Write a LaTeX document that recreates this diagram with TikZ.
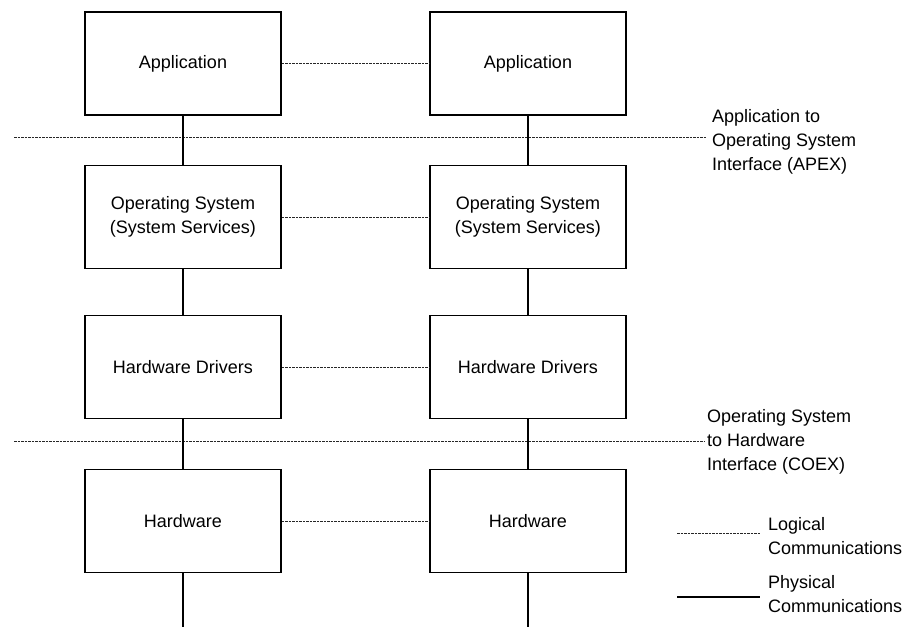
\documentclass[tikz,border=0pt]{standalone}
\usepackage{fontspec}
\setmainfont{Liberation Sans}
\colorlet{phys}{black}
\colorlet{logi}{black!85}

\begin{document}
\begin{tikzpicture}[x=1pt, y=-1pt,
  layer/.style={draw, line width=1.5pt, minimum width=196pt, minimum height=103pt,
    align=center, font=\fontsize{18}{24}\selectfont},
  note/.style={anchor=west, inner sep=0pt, align=left, font=\fontsize{18}{24}\selectfont},
  physical/.style={line width=1.4pt, color=phys},
  logical/.style={line width=1pt, color=logi, dash pattern=on 2.5pt off 1pt}]
  \useasboundingbox (0,0) rectangle (906,627);
  \draw (183, 63.5) node[layer] (appL) {Application};
  \draw (528, 63.5) node[layer] (appR) {Application};
  \draw (183, 217)  node[layer] (osL)  {Operating System\\(System Services)};
  \draw (528, 217)  node[layer] (osR)  {Operating System\\(System Services)};
  \draw (183, 367)  node[layer] (drvL) {Hardware Drivers};
  \draw (528, 367)  node[layer] (drvR) {Hardware Drivers};
  \draw (183, 521)  node[layer] (hwL)  {Hardware};
  \draw (528, 521)  node[layer] (hwR)  {Hardware};
  \coordinate (busL) at (183, 627);
  \coordinate (busR) at (528, 627);
  % interfaces
  \coordinate (apexL) at (14, 137);
  \coordinate (coexL) at (14, 441);
  \draw (712, 142) node[note] (apex) {Application to\\Operating System\\Interface (APEX)};
  \draw (707, 442) node[note] (coex) {Operating System\\to Hardware\\Interface (COEX)};
  \draw[logical, shorten >=5pt] (apexL) -- (apexL -| apex.west);
  \draw[logical, shorten >=3pt] (coexL) -- (coexL -| coex.west);
  % legend
  \coordinate (logA) at (677, 533);
  \coordinate (logB) at (760, 533);
  \coordinate (phyA) at (677, 597);
  \coordinate (phyB) at (760, 597);
  \draw (768, 536) node[note] (logtxt) {Logical\\Communications};
  \draw (768, 594) node[note] (phytxt) {Physical\\Communications};
  \draw[logical] (logA) -- (logB);
  \draw[physical] (phyA) -- (phyB);
  % physical links
  \draw[physical] (appL) -- (osL);
  \draw[physical] (osL) -- (drvL);
  \draw[physical] (drvL) -- (hwL);
  \draw[physical] (hwL) -- (busL);
  \draw[physical] (appR) -- (osR);
  \draw[physical] (osR) -- (drvR);
  \draw[physical] (drvR) -- (hwR);
  \draw[physical] (hwR) -- (busR);
  % logical links
  \draw[logical] (appL) -- (appR);
  \draw[logical] (osL) -- (osR);
  \draw[logical] (drvL) -- (drvR);
  \draw[logical] (hwL) -- (hwR);
\end{tikzpicture}
\end{document}
